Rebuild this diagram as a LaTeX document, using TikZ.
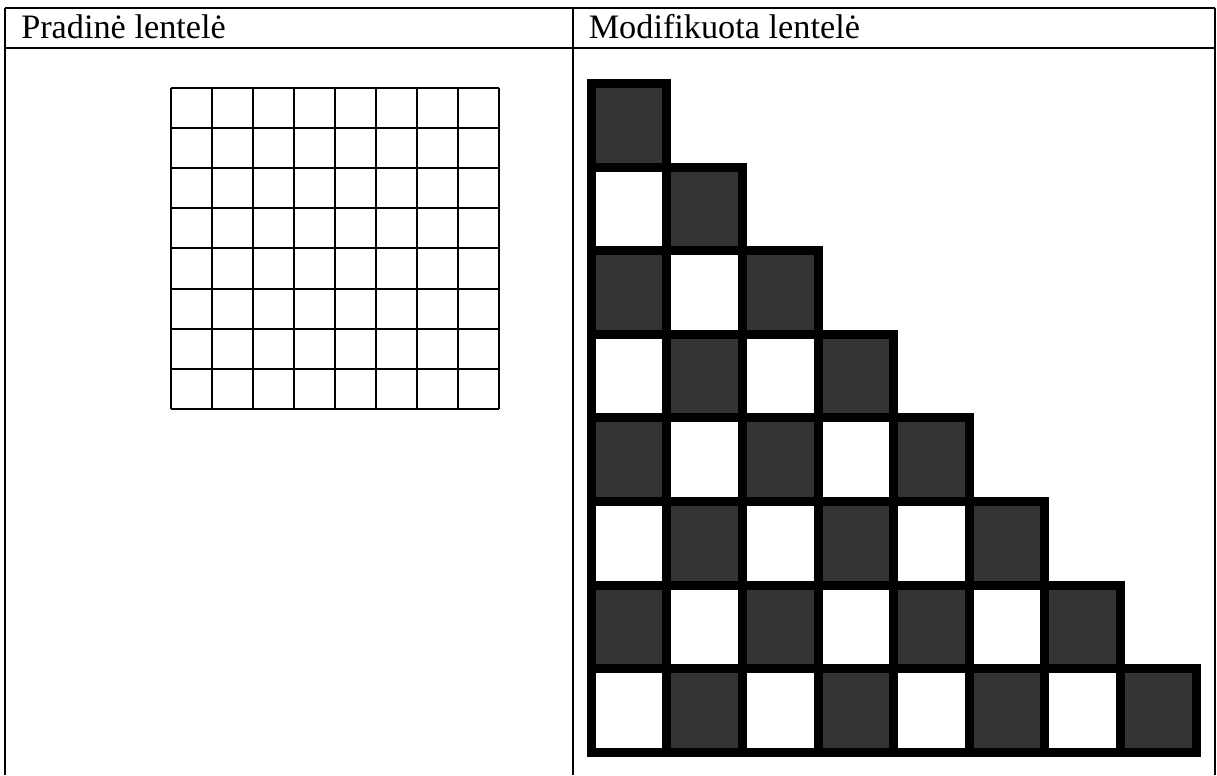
\documentclass[tikz,border=0pt]{standalone}
\usepackage{fontspec}
\setmainfont{Liberation Serif}
\definecolor{cellgray}{HTML}{333333}
\tikzset{
  tableline/.style={line width=1.5pt},
  thingrid/.style={line width=1.5pt},
  cellbox/.style={draw=black,line width=6.75pt},
  headtext/.style={anchor=base west,inner sep=0pt,font=\fontsize{25.7}{30}\selectfont}
}
\begin{document}
\begin{tikzpicture}[x=0.75pt,y=-0.75pt]
    \useasboundingbox (0,0) rectangle (1217,775);
    % Lentelės rėmas
    \draw[tableline] (5,7.5) -- (1215,7.5);
    \draw[tableline] (5,47.7) -- (1215,47.7);
    \foreach \x in {5,573,1215}
    \draw[tableline] (\x,7.5) -- (\x,775);

    % Antraštės
    \node[headtext] (pradine) at (21,38) {Pradinė lentelė};
    \node[headtext] (modifikuota) at (588.5,38) {Modifikuota lentelė};

    % Pradinė lentelė 8x8
    \foreach \k in {0,...,8}{
    \draw[thingrid] (170.7+41*\k,87.7) -- (170.7+41*\k,409);
    \draw[thingrid] (170.7,87.7+40.16*\k) -- (499,87.7+40.16*\k);
    }

    % Modifikuota lentelė (laiptai)
    \foreach \i in {0,...,7}
    \foreach \j in {0,...,\i}{
    \pgfmathtruncatemacro{\p}{mod(\i+\j,2)}
    \ifnum\p=0 \def\cellcol{cellgray}\else\def\cellcol{white}\fi
    \draw[cellbox,fill=\cellcol] (591.2+75.6*\j,83.5+83.6*\i) rectangle ++(75.6,83.6);
    }
\end{tikzpicture}
\end{document}
